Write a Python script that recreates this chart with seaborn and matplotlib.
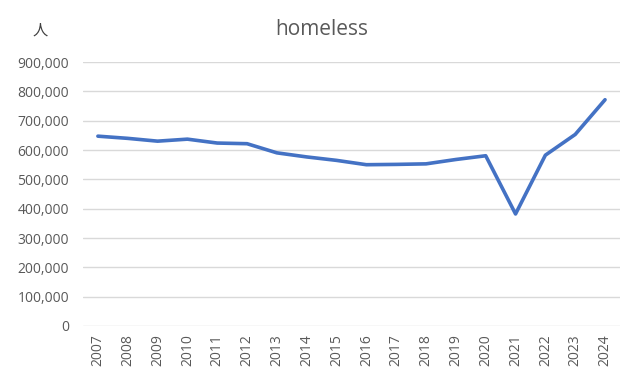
import pandas as pd
import matplotlib.pyplot as plt
import seaborn as sns
from matplotlib.ticker import FuncFormatter

# homeless counts by year
years = ['2007', '2008', '2009', '2010', '2011', '2012', '2013', '2014', '2015',
         '2016', '2017', '2018', '2019', '2020', '2021', '2022', '2023', '2024']
homeless = [647258, 639784, 630227, 637077, 623788, 621553, 590364, 576450, 564708,
            549928, 550996, 552830, 567715, 580466, 382000, 582462, 653104, 771480]

df = pd.DataFrame({'year': years, 'homeless': homeless})

sns.set_style('white')
plt.rcParams['font.family'] = ['Open Sans', 'Noto Sans CJK JP', 'DejaVu Sans']

fig = plt.figure(figsize=(6.31, 3.82), dpi=100)
ax = fig.add_axes([0.1315, 0.1466, 0.851, 0.691])

sns.lineplot(data=df, x='year', y='homeless', ax=ax, color='#4472C4',
             linewidth=2.6, sort=False)

ax.set_xlim(-0.5, len(years) - 0.5)
ax.set_ylim(0, 900000)
ax.set_yticks(range(0, 900001, 100000))
ax.yaxis.set_major_formatter(FuncFormatter(lambda v, p: f'{int(v):,}'))
ax.grid(axis='y', color='#D9D9D9', linewidth=1)
ax.set_axisbelow(True)
for s in ax.spines.values():
    s.set_visible(False)

ax.tick_params(axis='both', length=0, labelcolor='#595959', labelsize=10)
ax.tick_params(axis='y', pad=10)
ax.tick_params(axis='x', pad=6)
plt.setp(ax.get_xticklabels(), rotation=90)
ax.set_xlabel('')
ax.set_ylabel('')

fig.text(0.510, 0.908, 'homeless', ha='center', va='baseline', fontsize=15, color='#595959')
fig.text(0.064, 0.918, '人', ha='center', va='center', fontsize=11, color='#404040')

fig.savefig('out.png', dpi=100)
